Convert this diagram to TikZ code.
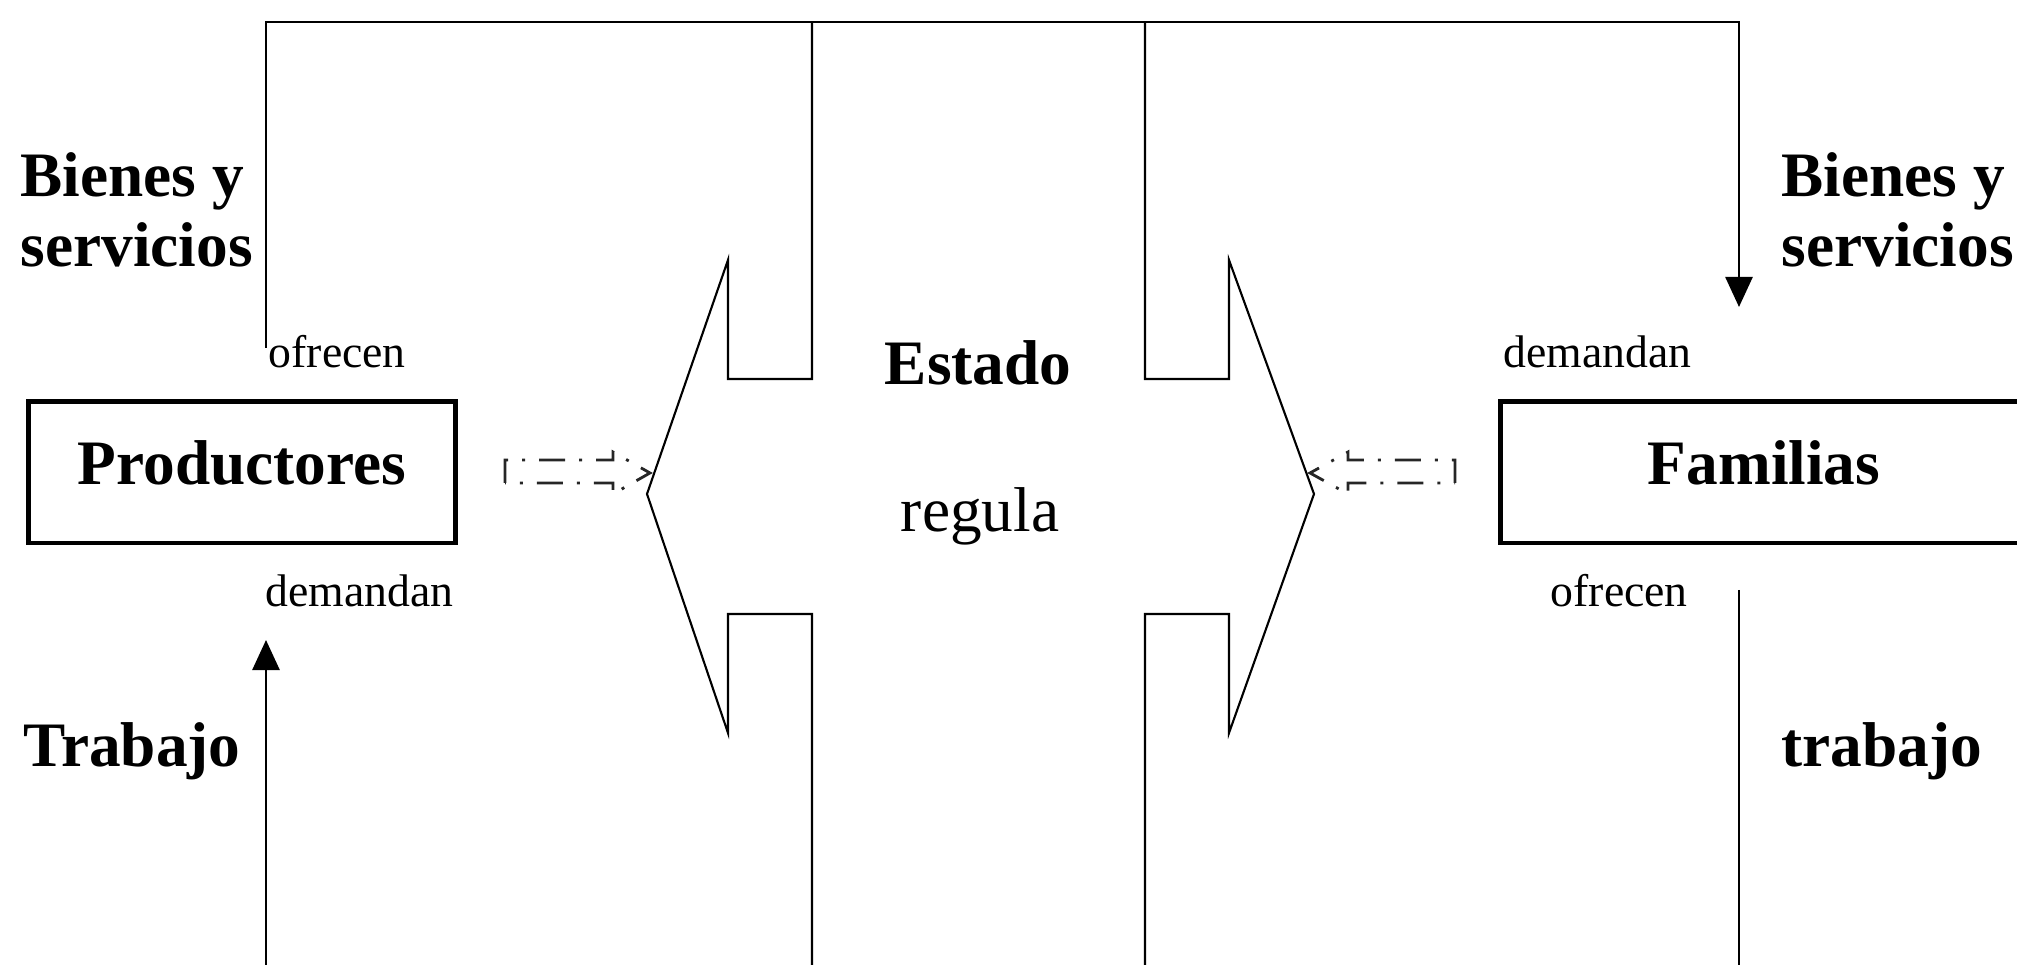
\documentclass[tikz,border=0pt]{standalone}
\usepackage{fontspec}
\setmainfont{Liberation Serif}
\usetikzlibrary{arrows.meta}
\begin{document}
\begin{tikzpicture}[x=0.01cm, y=-0.01cm,
  big/.style={font=\fontsize{18}{20}\selectfont\bfseries, inner sep=0},
  reg/.style={font=\fontsize{18}{20}\selectfont, inner sep=0},
  small/.style={font=\fontsize{13}{15}\selectfont, inner sep=0},
  boxnode/.style={draw, line width=1.4pt, inner sep=0, font=\fontsize{18}{20}\selectfont\bfseries,
    text height=12pt, text depth=4.9pt, minimum height=1.41cm},
  thinline/.style={line width=0.6pt},
  flow/.style={line width=0.75pt, -{Triangle[length=0.30cm, width=0.27cm]}},
  dasharrow/.style={draw=black!85, line width=0.8pt, dash pattern=on 0.26cm off 0.14cm on 0.03cm off 0.14cm}
]
\useasboundingbox (0,0) rectangle (2017,965);

% boxes
\node[boxnode, minimum width=4.26cm] (prod) at (242,472.5) {Productores};
\node[boxnode, minimum width=5.26cm] (fam) at (1764,472.5) {Familias};

% big labels (base anchor = baseline of last line)
\node[big, anchor=base west, align=left] (bsL) at (20,267) {Bienes y\\servicios};
\node[big, anchor=base west, align=left] (bsR) at (1781,267) {Bienes y\\servicios};
\node[big, anchor=base west] (trabL) at (23,767) {Trabajo};
\node[big, anchor=base west] (trabR) at (1781,767) {trabajo};
\node[big, anchor=base] (estado) at (978,385) {Estado};
\node[reg, anchor=base] (regula) at (980,532) {regula};

% small labels
\node[small, anchor=base west] (ofrL) at (268,368) {ofrecen};
\node[small, anchor=base west] (demR) at (1503,368) {demandan};
\node[small, anchor=base west] (demL) at (265,607) {demandan};
\node[small, anchor=base west] (ofrR) at (1550,607) {ofrecen};

% goods and services flow
\coordinate (bsStart) at (266,348);
\coordinate (bsC1) at (266,22);
\coordinate (bsC2) at (1739,22);
\coordinate (bsEnd) at (1739,307);
\draw[flow] (bsStart) -- (bsC1) -- (bsC2) -- (bsEnd);

% labour flow
\coordinate (trStart) at (1739,590);
\coordinate (trBotR) at (1739,975);
\draw[thinline] (trStart) -- (trBotR);
\coordinate (trBotL) at (266,975);
\coordinate (trEnd) at (266,640);
\draw[flow] (trBotL) -- (trEnd);

% state double arrow
\draw[thinline] (812,22) -- (812,379) -- (728,379) -- (728,260) -- (647,494) -- (728,733) -- (728,614) -- (812,614) -- (812,975);
\draw[thinline] (1145,22) -- (1145,379) -- (1229,379) -- (1229,260) -- (1314,494) -- (1229,733) -- (1229,614) -- (1145,614) -- (1145,975);

% small dashed arrows
\draw[dasharrow] (505,483) -- (505,460) -- (613,460) -- (613,452) -- (650,473) -- (613,494) -- (613,483) -- cycle;
\draw[dasharrow] (1455,483) -- (1455,460) -- (1348,460) -- (1348,452) -- (1310,473) -- (1348,494) -- (1348,483) -- cycle;
\end{tikzpicture}
\end{document}
